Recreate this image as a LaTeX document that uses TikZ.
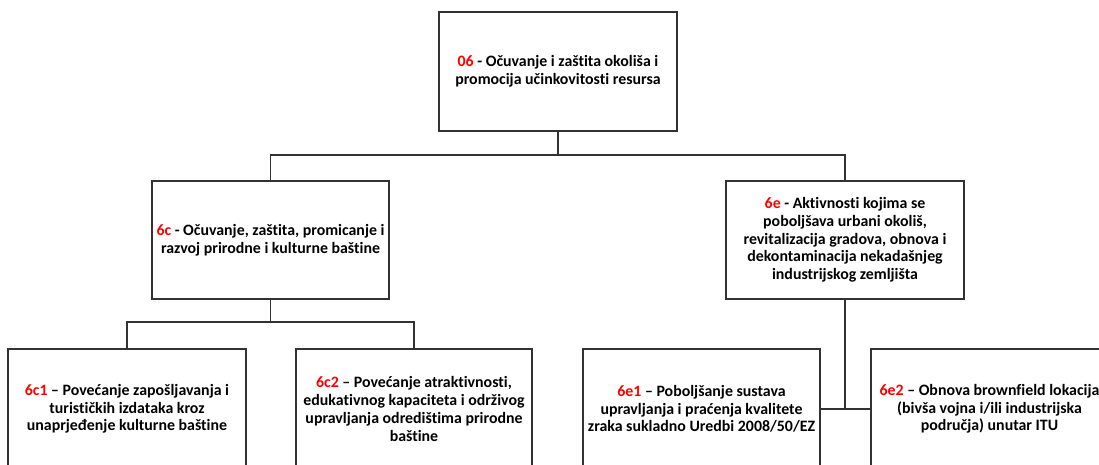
\documentclass[tikz,border=0pt]{standalone}
\usepackage{fontspec}
\setmainfont{Carlito}[Ligatures=CommonOff]
\definecolor{codered}{RGB}{255,0,0}
\definecolor{linegray}{RGB}{50,50,50}
\tikzset{
  box/.style={draw=linegray, line width=0.9pt, fill=white, align=center, inner sep=0pt,
    font=\bfseries\fontsize{11.9}{13.3}\selectfont},
  conn/.style={draw=linegray, line width=0.9pt},
}
\newcommand{\code}[1]{\textcolor{codered}{#1}}
\begin{document}
\begin{tikzpicture}[x=0.75pt, y=-0.75pt]
\useasboundingbox (0,0) rectangle (1099,464);
\clip (0,0) rectangle (1099,464);
\node[box, minimum width=178.5pt, minimum height=89.25pt] (top) at (558,71.5)
  {\code{06} - Očuvanje i zaštita okoliša i\\promocija učinkovitosti resursa};
\node[box, minimum width=177.75pt, minimum height=88.5pt] (c6) at (270.5,240)
  {\code{6c} - Očuvanje, zaštita, promicanje i\\razvoj prirodne i kulturne baštine};
\node[box, minimum width=178.5pt, minimum height=88.5pt] (e6) at (845,240)
  {\code{6e} - Aktivnosti kojima se\\poboljšava urbani okoliš,\\revitalizacija gradova, obnova i\\dekontaminacija nekadašnjeg\\industrijskog zemljišta};
\node[box, minimum width=178.5pt, minimum height=90pt] (c61) at (127,409)
  {\code{6c1} – Povećanje zapošljavanja i\\turističkih izdataka kroz\\unaprjeđenje kulturne baštine};
\node[box, minimum width=177pt, minimum height=90pt] (c62) at (414,409)
  {\code{6c2} – Povećanje atraktivnosti,\\edukativnog kapaciteta i održivog\\upravljanja odredištima prirodne\\baštine};
\node[box, minimum width=177.75pt, minimum height=90pt] (e61) at (701.5,409)
  {\code{6e1} – Poboljšanje sustava\\upravljanja i praćenja kvalitete\\zraka sukladno Uredbi 2008/50/EZ};
\node[box, minimum width=177.75pt, minimum height=90pt] (e62) at (989.5,409)
  {\code{6e2} – Obnova brownfield lokacija\\(bivša vojna i/ili industrijska\\područja) unutar ITU};
\coordinate (j1) at (558,155);
\coordinate (j2) at (270.5,322);
\coordinate (j3) at (845,409);
\draw[conn] (top.south) -- (j1) -| (c6.north);
\draw[conn] (j1) -| (e6.north);
\draw[conn] (c6.south) -- (j2) -| (c61.north);
\draw[conn] (j2) -| (c62.north);
\draw[conn] (e6.south) -- (j3);
\draw[conn] (e61.east) -- (e62.west);
\end{tikzpicture}
\end{document}
